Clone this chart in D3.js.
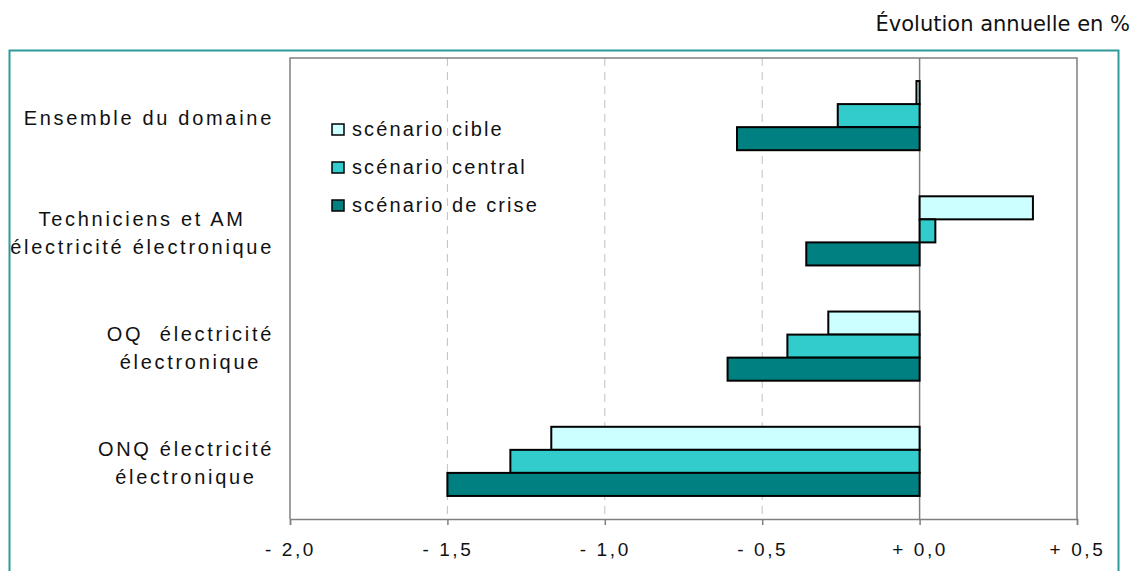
<!DOCTYPE html>
<html><head><meta charset="utf-8">
<script src="https://cdn.jsdelivr.net/npm/d3@7"></script>
<style>body{margin:0;background:#fff}svg{display:block}</style>
</head><body>
<script>
const categories = [
  ["Ensemble du domaine"],
  ["Techniciens et AM", "électricité électronique"],
  ["OQ\u00A0 électricité", "électronique"],
  ["ONQ électricité", "électronique"]
];
const seriesNames = ["scénario cible", "scénario central", "scénario de crise"];
const cible   = [-0.01, 0.36, -0.29, -1.17];
const central = [-0.26, 0.05, -0.42, -1.30];
const crise   = [-0.58, -0.36, -0.61, -1.50];
const tickValues = [-2.0, -1.5, -1.0, -0.5, 0.0, 0.5];
const tickLabels = ["- 2,0", "- 1,5", "- 1,0", "- 0,5", "+ 0,0", "+ 0,5"];
const colors = ["#CCFFFF", "#33CCCC", "#008080"];
const title = "Évolution annuelle en %";

(function () {
const W = 1136, H = 571;
const svg = d3.select("body").append("svg").attr("width", W).attr("height", H);
const series = [cible, central, crise];

const pL = 290, pR = 1077, pT = 58, pB = 519;
const x = d3.scaleLinear().domain([-2, 0.5]).range([pL, pR]);
const y = d3.scaleBand().domain(d3.range(categories.length)).range([pT, pB]).padding(0);
const sub = d3.scaleBand().domain(d3.range(series.length)).range([0, y.bandwidth()]).paddingInner(0).paddingOuter(1);

// outer teal border
svg.append("rect").attr("x", 9.5).attr("y", 50.5).attr("width", 1109).attr("height", 560)
  .attr("fill", "none").attr("stroke", "#2E9A9A").attr("stroke-width", 2);

// title
svg.append("text").attr("x", 1130).attr("y", 31).attr("text-anchor", "end")
  .attr("font-family", "DejaVu Sans").attr("font-size", 21).attr("fill", "#111").text(title);

// dashed grid lines
svg.append("g").selectAll("line").data([-1.5, -1.0, -0.5]).join("line")
  .attr("x1", d => x(d)).attr("x2", d => x(d)).attr("y1", pT).attr("y2", pB)
  .attr("stroke", "#c0c0c0").attr("stroke-width", 1).attr("stroke-dasharray", "8,6");

// plot frame (left, top, right)
svg.append("path").attr("d", `M${pL},${pB}V${pT}H${pR}V${pB}`)
  .attr("fill", "none").attr("stroke", "#808080").attr("stroke-width", 1.5);
// zero line
svg.append("line").attr("x1", x(0)).attr("x2", x(0)).attr("y1", pT).attr("y2", pB)
  .attr("stroke", "#808080").attr("stroke-width", 1.5);

// bars
series.forEach((vals, si) => {
  svg.append("g").selectAll("rect").data(vals).join("rect")
    .attr("x", d => x(Math.min(0, d)))
    .attr("y", (d, i) => y(i) + sub(si))
    .attr("width", d => Math.abs(x(d) - x(0)))
    .attr("height", sub.bandwidth())
    .attr("fill", colors[si]).attr("stroke", "#000").attr("stroke-width", 2);
});

// bottom axis
const axis = d3.axisBottom(x).tickValues(tickValues).tickSize(6)
  .tickFormat((d, i) => tickLabels[i]);
const ag = svg.append("g").attr("transform", `translate(0,${pB})`).call(axis);
ag.select(".domain").attr("stroke", "#808080").attr("stroke-width", 1.5);
ag.selectAll(".tick line").attr("stroke", "#808080").attr("stroke-width", 1.5);
ag.selectAll(".tick text").attr("font-family", "Liberation Sans").attr("font-size", 19)
  .attr("letter-spacing", "2.6px").attr("fill", "#111").attr("dy", 0).attr("y", 37)
  .style("white-space", "pre");

// category labels
const labG = svg.append("g").attr("font-family", "Liberation Sans").attr("font-size", 20)
  .attr("letter-spacing", "2.7px").attr("fill", "#111").style("white-space", "pre");
categories.forEach((lines, i) => {
  const lineH = 28;
  const cy = y(i) + y.bandwidth() / 2;
  const t = labG.append("text").attr("text-anchor", "middle");
  const spans = lines.map((ln, k) => t.append("tspan")
    .attr("y", cy - (lines.length - 1) * lineH / 2 + k * lineH + 9).text(ln));
  const maxW = d3.max(spans, s => s.node().getComputedTextLength());
  const cx = 274 - maxW / 2;
  spans.forEach(s => s.attr("x", cx));
});

// legend
const lg = svg.append("g");
seriesNames.forEach((n, i) => {
  const yy = 136 + i * 38;
  lg.append("rect").attr("x", 332).attr("y", yy - 12).attr("width", 12).attr("height", 11)
    .attr("fill", colors[i]).attr("stroke", "#000").attr("stroke-width", 1.5);
  lg.append("text").attr("x", 352).attr("y", yy).attr("font-family", "Liberation Sans")
    .attr("font-size", 20).attr("letter-spacing", "2.1px").attr("fill", "#111").text(n);
});
})();
</script>
</body></html>
